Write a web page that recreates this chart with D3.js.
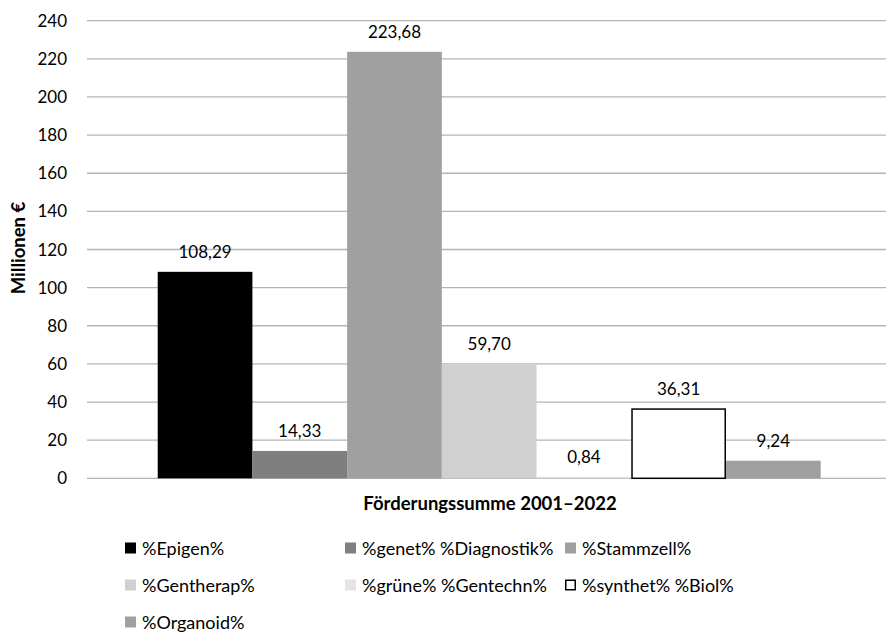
<!DOCTYPE html>
<html><head><meta charset="utf-8">
<script src="https://cdn.jsdelivr.net/npm/d3@7"></script>
<style>body{margin:0;background:#fff}svg{display:block}text{font-family:Lato,"Open Sans",sans-serif;fill:#000}</style>
</head><body><svg id="c" width="886" height="632"></svg>
<script>
const categories = ["%Epigen%","%genet% %Diagnostik%","%Stammzell%","%Gentherap%","%grüne% %Gentechn%","%synthet% %Biol%","%Organoid%"];
const values = [108.29,14.33,223.68,59.70,0.84,36.31,9.24];
const valueLabels = ["108,29","14,33","223,68","59,70","0,84","36,31","9,24"];
const yTicks = [0,20,40,60,80,100,120,140,160,180,200,220,240];
const fills = ["#000000","#7f7f7f","#a0a0a0","#d0d0d0","#e4e4e4","#ffffff","#a0a0a0"];
const strokes = ["none","none","none","none","none","#000000","none"];

const svg = d3.select("#c");
const y = d3.scaleLinear().domain([0,240]).range([478.3,20.7]);
const x = d3.scaleBand().domain(categories).range([157.7,820.7]).padding(0);

// gridlines
svg.append("g").selectAll("line").data(yTicks).join("line")
  .attr("x1",87).attr("x2",886).attr("y1",d=>y(d)).attr("y2",d=>y(d))
  .attr("stroke","#b4b4b4").attr("stroke-width",1.3);
// tick labels
svg.append("g").selectAll("text").data(yTicks).join("text")
  .attr("x",67).attr("y",d=>y(d)+6).attr("text-anchor","end")
  .style("font-size","17px").text(d=>d);

// bars
svg.append("g").selectAll("rect").data(values).join("rect")
  .attr("x",(d,i)=>x(categories[i]) + (strokes[i]!=="none"?0.75:0))
  .attr("width",(d,i)=>x.bandwidth() - (strokes[i]!=="none"?1.5:0))
  .attr("y",d=>y(d))
  .attr("height",d=>y(0)-y(d))
  .attr("fill",(d,i)=>fills[i])
  .attr("stroke",(d,i)=>strokes[i]).attr("stroke-width",1.5);

// value labels
svg.append("g").selectAll("text").data(values).join("text")
  .attr("x",(d,i)=>x(categories[i])+x.bandwidth()/2)
  .attr("y",d=>y(d)-14).attr("text-anchor","middle")
  .style("font-size","17px").text((d,i)=>valueLabels[i]);

// axis titles
svg.append("text").attr("x",490).attr("y",510).attr("text-anchor","middle")
  .style("font-size","18.5px").style("font-weight","bold").text("Förderungssumme 2001–2022");
svg.append("text").attr("transform","translate(25,248) rotate(-90)").attr("text-anchor","middle")
  .style("font-size","18.5px").style("font-weight","bold").text("Millionen €");

// legend
const legPos = [[125,548],[345,548],[565,548],[125,585],[345,585],[565,585],[125,622]];
const lg = svg.append("g").selectAll("g").data(categories).join("g")
  .attr("transform",(d,i)=>`translate(${legPos[i][0]},${legPos[i][1]})`);
lg.append("rect").attr("x",(d,i)=>strokes[i]!=="none"?0.75:0).attr("y",(d,i)=>-5.5+(strokes[i]!=="none"?0.75:0))
  .attr("width",(d,i)=>strokes[i]!=="none"?9.5:11).attr("height",(d,i)=>strokes[i]!=="none"?9.5:11)
  .attr("fill",(d,i)=>fills[i]).attr("stroke",(d,i)=>strokes[i]).attr("stroke-width",1.5);
lg.append("text").attr("x",17).attr("y",6.5).style("font-size","18px").text(d=>d);
</script></body></html>
